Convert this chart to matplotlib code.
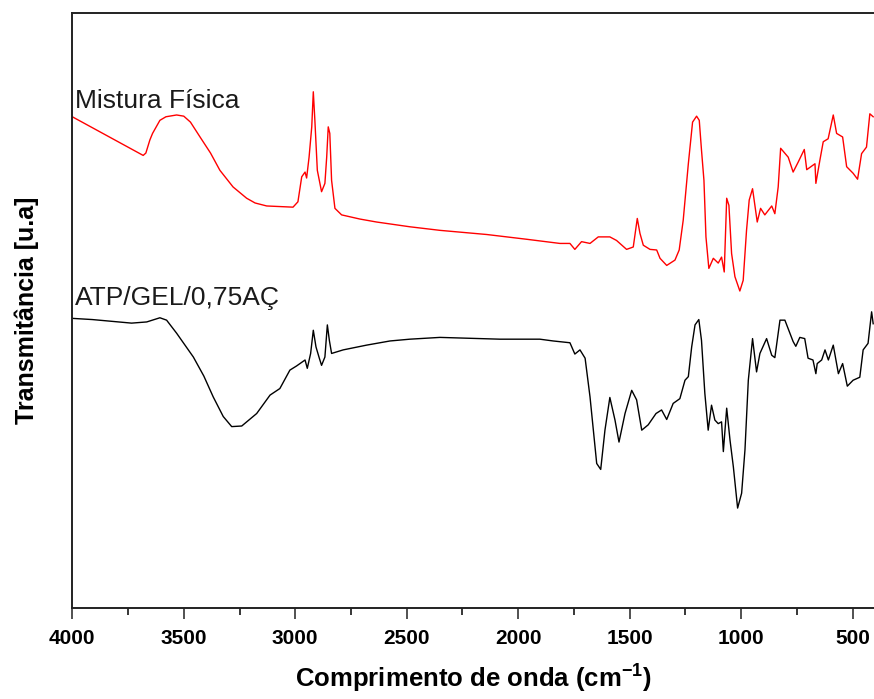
import matplotlib
matplotlib.use("Agg")
import matplotlib.pyplot as plt
from matplotlib.ticker import MultipleLocator

# FTIR spectra (wavenumber in cm-1, transmittance in a.u.)
mix_wn = [4000, 3682, 3670, 3652, 3640, 3607, 3580, 3532, 3500, 3470, 3427, 3380,
          3338, 3279, 3218, 3180, 3128, 3010, 2988,
          2971, 2956, 2949, 2938, 2926, 2919, 2912, 2901, 2882, 2867, 2859, 2852,
          2845, 2837, 2822, 2792, 2710, 2635, 2486, 2351, 2141, 1962, 1813, 1768,
          1746, 1716, 1678, 1641, 1589, 1559, 1514, 1484, 1466, 1454, 1439, 1409,
          1379, 1364, 1334, 1297, 1278, 1260, 1237, 1218, 1200, 1188, 1178, 1167,
          1158, 1145, 1125, 1103, 1088, 1076, 1065, 1055, 1043, 1028, 1006, 991,
          976, 964, 949, 928, 913, 894, 863, 849, 834, 823, 789, 767, 744, 717,
          706, 669, 665, 647, 632, 610, 587, 572, 545, 527, 498, 478, 460, 438,
          423, 408]
mix_t = [82.6, 76.1, 76.5, 78.7, 79.8, 82.0, 82.6, 82.9, 82.7, 81.7, 79.2, 76.5,
         73.6, 70.8, 68.9, 68.1, 67.6, 67.4, 68.3,
         72.5, 73.3, 72.3, 75.8, 80.9, 86.8, 82.0, 73.6, 70.0, 71.4, 75.8, 80.9,
         79.8, 71.9, 67.2, 66.1, 65.4, 64.9, 64.1, 63.5, 62.8, 62.0, 61.3, 61.3,
         60.3, 61.6, 61.3, 62.4, 62.4, 61.8, 60.3, 60.7, 65.5, 63.0, 61.0, 60.3,
         60.2, 58.8, 57.6, 58.5, 60.2, 65.2, 74.7, 81.7, 82.7, 82.0, 77.0, 71.9,
         62.4, 57.1, 58.8, 58.0, 59.0, 56.5, 68.9, 67.7, 59.6, 55.7, 53.3, 55.1,
         63.5, 68.6, 70.5, 64.9, 67.2, 66.1, 67.6, 66.3, 70.8, 77.3, 75.8, 73.3,
         75.0, 77.1, 73.7, 74.7, 71.4, 75.3, 78.4, 78.9, 82.9, 79.8, 79.2, 74.2,
         73.1, 72.1, 76.4, 77.5, 83.1, 82.6]

atp_wn = [4000, 3910, 3734, 3666, 3607, 3577, 3532, 3457, 3410, 3368, 3323, 3285,
          3240, 3173, 3113, 3069, 3024, 2994, 2956, 2946, 2931, 2919, 2907, 2892,
          2882, 2867, 2856, 2847, 2837, 2785, 2680, 2575, 2486, 2351, 2082, 1903,
          1843, 1768, 1746, 1723, 1700, 1678, 1648, 1630, 1611, 1589, 1566, 1548,
          1521, 1491, 1469, 1446, 1417, 1382, 1357, 1334, 1305, 1275, 1252, 1237,
          1222, 1207, 1190, 1178, 1163, 1148, 1133, 1118, 1103, 1088, 1080, 1065,
          1050, 1035, 1016, 998, 983, 968, 949, 931, 916, 886, 863, 849, 826, 804,
          767, 755, 737, 715, 700, 678, 665, 659, 639, 624, 609, 587, 564, 545,
          524, 498, 468, 453, 431, 415, 408]
atp_t = [48.7, 48.5, 47.9, 48.1, 48.8, 48.4, 46.2, 42.2, 39.0, 35.5, 32.2, 30.5,
         30.6, 32.7, 35.8, 36.9, 40.0, 40.7, 41.7, 40.3, 42.8, 46.7, 43.9, 42.0,
         40.8, 42.2, 47.6, 45.0, 42.8, 43.4, 44.2, 44.9, 45.2, 45.5, 45.2, 45.2,
         44.9, 44.6, 42.7, 43.4, 42.0, 35.5, 24.3, 23.3, 29.9, 35.4, 31.6, 27.9,
         32.7, 36.6, 35.0, 29.9, 30.8, 32.7, 33.3, 31.7, 34.4, 35.2, 38.3, 38.9,
         43.9, 47.6, 48.5, 45.0, 36.1, 29.9, 34.1, 31.6, 31.0, 31.3, 26.3, 33.6,
         28.2, 23.7, 16.8, 19.3, 26.6, 38.3, 45.3, 39.7, 42.8, 45.3, 42.5, 42.1,
         48.4, 48.4, 44.8, 44.0, 45.5, 45.3, 42.0, 41.7, 39.4, 41.1, 41.7, 43.4,
         41.7, 44.2, 39.4, 41.1, 37.3, 38.3, 38.8, 43.4, 44.5, 49.8, 47.8]

plt.rcParams["font.family"] = ["Liberation Sans", "DejaVu Sans"]
plt.rcParams["mathtext.default"] = "regular"

fig = plt.figure(figsize=(8.74, 6.99), dpi=100)
ax = fig.add_axes([0.0827, 0.1302, 0.9184, 0.8508])

ax.plot(mix_wn, mix_t, color="#ff0000", lw=1.0)
ax.plot(atp_wn, atp_t, color="#000000", lw=1.0)

ax.text(3990, 84.0, "Mistura Física", fontsize=19, color="#1a1a1a", va="baseline")
ax.text(3990, 50.9, "ATP/GEL/0,75AÇ", fontsize=19, color="#1a1a1a", va="baseline")

ax.set_xlim(4000, 400)
ax.set_ylim(0, 100)
ax.xaxis.set_major_locator(MultipleLocator(500))
ax.xaxis.set_minor_locator(MultipleLocator(250))
ax.set_yticks([])
ax.tick_params(axis="x", which="major", direction="out", length=8, width=1.1,
               pad=7, labelsize=15, colors="#222222")
ax.tick_params(axis="x", which="minor", direction="out", length=5, width=1.1)
for lab in ax.get_xticklabels():
    lab.set_fontweight("bold")
    lab.set_color("black")
for side in ("left", "top", "bottom"):
    ax.spines[side].set_linewidth(1.4)
    ax.spines[side].set_color("#222222")
ax.spines["right"].set_visible(False)

ax.set_xlabel("Comprimento de onda (cm$^{-1}$)", fontsize=18.5, fontweight="bold",
              labelpad=11)
ax.set_ylabel("Transmitância [u.a]", fontsize=18, fontweight="bold", labelpad=24)

fig.savefig("out.png", dpi=100)
